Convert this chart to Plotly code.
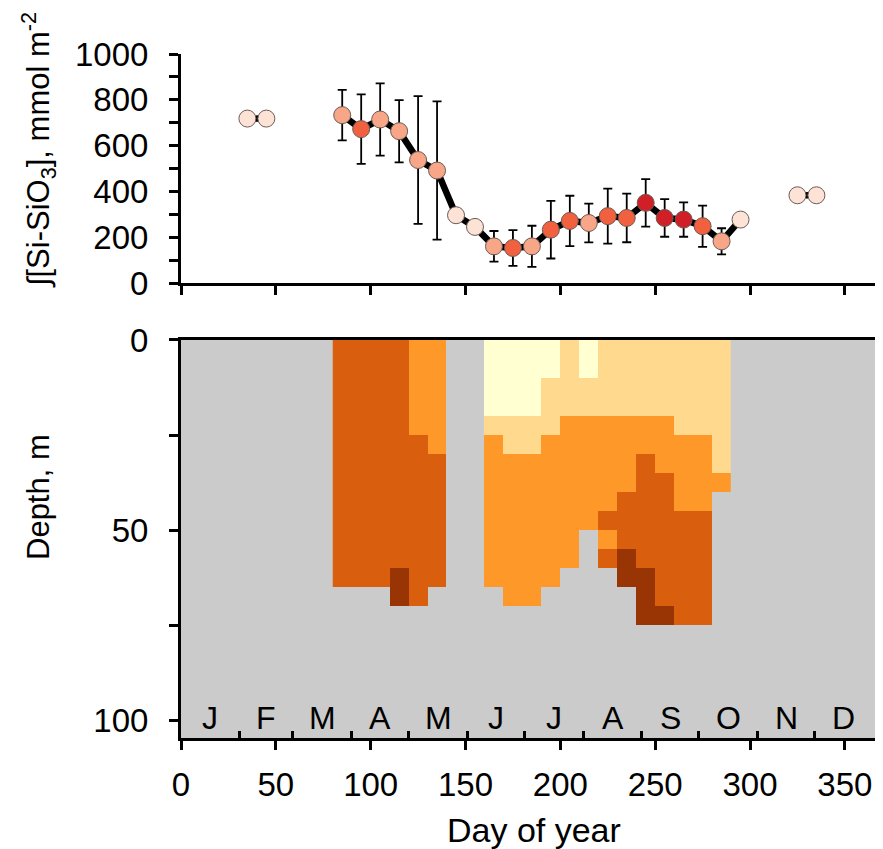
import numpy as np
import plotly.graph_objects as go

# ---------------- data ----------------
# top panel: integrated silicate (mmol m-2)
pair1_days = [35, 45]
pair1_vals = [718, 718]
main_days = [85, 95, 105, 115, 125, 135, 145, 155, 165, 175, 185, 195, 205, 215,
             225, 235, 245, 255, 265, 275, 285, 295]
main_vals = [733, 672, 714, 663, 537, 491, 296, 245, 160, 153, 160, 233, 271, 262,
             292, 284, 350, 284, 277, 248, 182, 277]
main_err = [110, 152, 158, 136, 279, 302, None, None, 67, 78, 90, 126, 110, 85,
            120, 106, 104, 82, 75, 90, 57, None]
main_cls = [2, 3, 2, 2, 2, 2, 1, 1, 2, 3, 2, 3, 3, 2,
            3, 3, 4, 4, 4, 3, 2, 1]
pair2_days = [325, 335]
pair2_vals = [383, 383]

# bottom panel: class level per 10-day column (start day) and 5-m depth bin (0 = no data)
col_start = [80, 90, 100, 110, 120, 130, 140, 150, 160, 170, 180, 190, 200, 210,
             220, 230, 240, 250, 260, 270, 280]
depth_bins = [2.5, 7.5, 12.5, 17.5, 22.5, 27.5, 32.5, 37.5, 42.5, 47.5, 52.5,
              57.5, 62.5, 67.5, 72.5]
levels = [
    [4, 4, 4, 4, 4, 4, 4, 4, 4, 4, 4, 4, 4, 0, 0],  # 80
    [4, 4, 4, 4, 4, 4, 4, 4, 4, 4, 4, 4, 4, 0, 0],  # 90
    [4, 4, 4, 4, 4, 4, 4, 4, 4, 4, 4, 4, 4, 0, 0],  # 100
    [4, 4, 4, 4, 4, 4, 4, 4, 4, 4, 4, 4, 5, 5, 0],  # 110
    [3, 3, 3, 3, 3, 4, 4, 4, 4, 4, 4, 4, 4, 4, 0],  # 120
    [3, 3, 3, 3, 3, 3, 4, 4, 4, 4, 4, 4, 4, 0, 0],  # 130
    [0, 0, 0, 0, 0, 0, 0, 0, 0, 0, 0, 0, 0, 0, 0],  # 140
    [0, 0, 0, 0, 0, 0, 0, 0, 0, 0, 0, 0, 0, 0, 0],  # 150
    [1, 1, 1, 1, 2, 3, 3, 3, 3, 3, 3, 3, 3, 0, 0],  # 160
    [1, 1, 1, 1, 2, 2, 3, 3, 3, 3, 3, 3, 3, 3, 0],  # 170
    [1, 1, 1, 1, 2, 2, 3, 3, 3, 3, 3, 3, 3, 3, 0],  # 180
    [1, 1, 2, 2, 2, 3, 3, 3, 3, 3, 3, 3, 3, 0, 0],  # 190
    [2, 2, 2, 2, 3, 3, 3, 3, 3, 3, 3, 3, 0, 0, 0],  # 200
    [1, 1, 2, 2, 3, 3, 3, 3, 3, 3, 0, 0, 0, 0, 0],  # 210
    [2, 2, 2, 2, 3, 3, 3, 3, 3, 4, 3, 4, 0, 0, 0],  # 220
    [2, 2, 2, 2, 3, 3, 3, 3, 4, 4, 4, 5, 5, 0, 0],  # 230
    [2, 2, 2, 2, 3, 3, 4, 4, 4, 4, 4, 4, 5, 5, 5],  # 240
    [2, 2, 2, 2, 3, 3, 3, 4, 4, 4, 4, 4, 4, 4, 5],  # 250
    [2, 2, 2, 2, 2, 3, 3, 3, 3, 4, 4, 4, 4, 4, 4],  # 260
    [2, 2, 2, 2, 2, 3, 3, 3, 3, 4, 4, 4, 4, 4, 4],  # 270
    [2, 2, 2, 2, 2, 2, 2, 3, 0, 0, 0, 0, 0, 0, 0],  # 280
]
month_labels = ["J", "F", "M", "A", "M", "J", "J", "A", "S", "O", "N", "D"]
month_mid = [15.5, 45, 74.5, 105, 135.5, 166, 196.5, 227.5, 258, 288.5, 319, 349.5]
month_edges = [31, 59, 90, 120, 151, 181, 212, 243, 273, 304, 334]

# ---------------- styling ----------------
marker_cols = {1: "#FCE3D6", 2: "#F8A688", 3: "#F2613F", 4: "#D01F27"}
heat_cols = ["#FFFFD2", "#FED98E", "#FE9929", "#D95F0E", "#993404"]
FONT = "Liberation Sans, Arial, sans-serif"
TICKSZ = 33
TITLESZ = 31
XTITLESZ = 34
MONTHSZ = 32

fig = go.Figure()

# heatmap (bottom)
z = np.array(levels, dtype=float).T
z[z == 0] = np.nan
xc = [c + 5 for c in col_start]
cs = [[0, heat_cols[0]], [0.125, heat_cols[0]], [0.125, heat_cols[1]], [0.375, heat_cols[1]],
      [0.375, heat_cols[2]], [0.625, heat_cols[2]], [0.625, heat_cols[3]], [0.875, heat_cols[3]],
      [0.875, heat_cols[4]], [1, heat_cols[4]]]
fig.add_trace(go.Heatmap(x=xc, y=depth_bins, z=z, colorscale=cs, zmin=1, zmax=5,
                         showscale=False, xaxis="x2", yaxis="y2", hoverinfo="skip"))

# error bars (top)
eidx = [i for i, e in enumerate(main_err) if e is not None]
fig.add_trace(go.Scatter(x=[main_days[i] for i in eidx], y=[main_vals[i] for i in eidx],
                         mode="markers", marker=dict(size=1, color="rgba(0,0,0,0)"),
                         error_y=dict(type="data", array=[main_err[i] for i in eidx],
                                      color="black", thickness=1.8, width=4.5),
                         xaxis="x", yaxis="y", showlegend=False, hoverinfo="skip"))

def add_series(xs, ys, cls):
    fig.add_trace(go.Scatter(
        x=xs, y=ys, mode="lines+markers",
        line=dict(color="black", width=6.5),
        marker=dict(size=17, color=[marker_cols[c] for c in cls],
                    line=dict(color="#6b5a55", width=1)),
        xaxis="x", yaxis="y", showlegend=False))

add_series(pair1_days, pair1_vals, [1, 1])
add_series(main_days, main_vals, main_cls)
add_series(pair2_days, pair2_vals, [1, 1])

axis_common = dict(showline=True, linecolor="black", linewidth=3, showgrid=False,
                   zeroline=False, tickcolor="black", tickwidth=2.5, automargin=False,
                   tickfont=dict(family=FONT, size=TICKSZ, color="black"))

# the page body adds an 8 px offset, so the figure is sized to compensate
fig.update_layout(
    width=875, height=841,
    margin=dict(l=173, r=4, t=46, b=111),
    paper_bgcolor="white", plot_bgcolor="rgba(0,0,0,0)",
    showlegend=False,
    font=dict(family=FONT, color="black"),
    xaxis=dict(domain=[0, 1], range=[0, 368], anchor="y", tickvals=[0, 50, 100, 150, 200, 250, 300, 350],
               ticks="outside", ticklen=9, showticklabels=False, **axis_common),
    yaxis=dict(domain=[0.6652, 1], range=[0, 1000], anchor="x",
               tickvals=[0, 200, 400, 600, 800, 1000], ticks="outside", ticklen=9,
               ticklabelstandoff=14,
               minor=dict(tickvals=[100, 300, 500, 700, 900], ticks="outside", ticklen=9,
                          tickwidth=2.5, tickcolor="black"),
               **axis_common),
    xaxis2=dict(domain=[0, 1], range=[0, 368], anchor="y2", tickvals=[0, 50, 100, 150, 200, 250, 300, 350],
                ticks="outside", ticklen=9, mirror=True, ticklabelstandoff=6,
                minor=dict(tickvals=month_edges, ticks="inside", ticklen=7, tickwidth=2.5,
                           tickcolor="black"),
                **axis_common),
    yaxis2=dict(domain=[0, 0.5819], range=[104.7, 0], anchor="x2",
                tickvals=[0, 50, 100], ticks="outside", ticklen=9, mirror=True,
                ticklabelstandoff=14,
                minor=dict(tickvals=[25, 75], ticks="outside", ticklen=9, tickwidth=2.5,
                           tickcolor="black"),
                **axis_common),
)

# gray background for the section plot
fig.add_shape(type="rect", xref="x2 domain", yref="y2 domain", x0=0, x1=1, y0=0, y1=1,
              fillcolor="#CBCBCB", line=dict(width=0), layer="below")

# month letters
for lab, xm in zip(month_labels, month_mid):
    fig.add_annotation(x=xm, y=99.5, xref="x2", yref="y2", text=lab, showarrow=False,
                       font=dict(family=FONT, size=MONTHSZ, color="black"),
                       xanchor="center", yanchor="middle")

# axis titles (plot area spans 181..879 px horizontally, 54..738 px vertically on screen)
fig.add_annotation(xref="paper", yref="paper", x=(38 - 181) / 698, y=1 - (150 - 54) / 684,
                   text="∫[Si-SiO<sub>3</sub>], mmol m<sup>-2</sup>", textangle=-90,
                   showarrow=False, xanchor="center", yanchor="middle",
                   font=dict(family=FONT, size=TITLESZ, color="black"))
fig.add_annotation(xref="paper", yref="paper", x=(38 - 181) / 698, y=1 - (497 - 54) / 684,
                   text="Depth, m", textangle=-90,
                   showarrow=False, xanchor="center", yanchor="middle",
                   font=dict(family=FONT, size=TITLESZ, color="black"))
fig.add_annotation(xref="paper", yref="paper", x=(534 - 181) / 698, y=-(830 - 738) / 684,
                   text="Day of year", showarrow=False, xanchor="center", yanchor="middle",
                   font=dict(family=FONT, size=XTITLESZ, color="black"))

fig.write_html("out.html")
